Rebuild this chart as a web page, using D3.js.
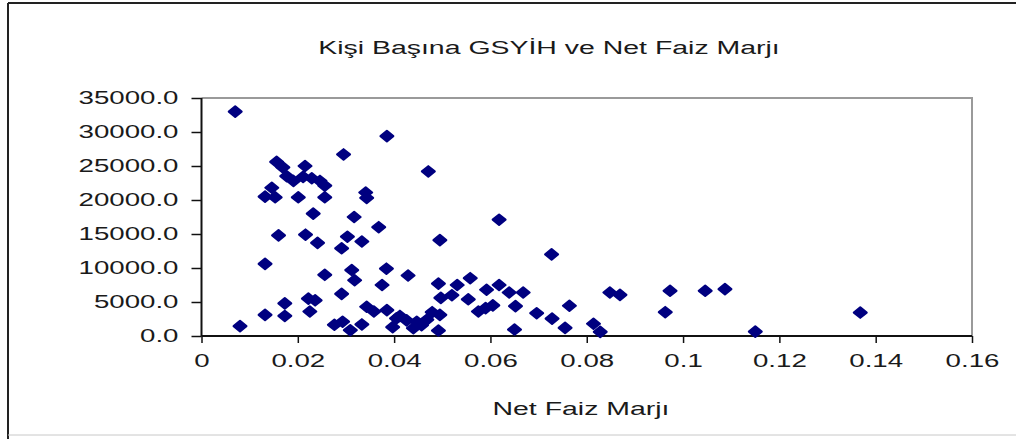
<!DOCTYPE html>
<html>
<head>
<meta charset="utf-8">
<script src="https://cdn.jsdelivr.net/npm/d3@7"></script>
<style>
  body { margin: 0; background: #fff; }
  svg { display: block; font-family: "Liberation Sans", Arial, sans-serif; }
</style>
</head>
<body>
<div id="chart"></div>
<script>
// Değerler (tahmini)
const netFaizMarji = [
  0.007, 0.0385, 0.0295, 0.0156, 0.0169, 0.0215, 0.0177, 0.0191, 0.0211, 0.0229,
  0.0246, 0.0256, 0.0146, 0.0132, 0.0153, 0.0201, 0.0256, 0.0341, 0.0343, 0.0232,
  0.0317, 0.0471, 0.0368, 0.016, 0.0216, 0.0241, 0.0303, 0.0291, 0.0333, 0.0495,
  0.0618, 0.0727, 0.0132, 0.0256, 0.0312, 0.0318, 0.0384, 0.0429, 0.0375, 0.0291,
  0.0173, 0.0173, 0.0132, 0.008, 0.0222, 0.0236, 0.0225, 0.0276, 0.0293, 0.0309,
  0.0333, 0.0343, 0.0358, 0.0385, 0.0397, 0.0412, 0.0426, 0.0447, 0.0457, 0.0468,
  0.0479, 0.0495, 0.044, 0.0492, 0.0405, 0.0492, 0.0531, 0.0558, 0.0497, 0.052,
  0.0554, 0.0592, 0.0618, 0.0639, 0.0668, 0.0652, 0.0575, 0.059, 0.0605, 0.0696,
  0.0728, 0.0764, 0.0755, 0.065, 0.0848, 0.0869, 0.0973, 0.0963, 0.1046, 0.1087,
  0.0814, 0.0828, 0.115, 0.1368
];
const kisiBasinaGsyih = [
  33000, 29400, 26700, 25600, 24800, 25000, 23500, 22800, 23400, 23200,
  22800, 22100, 21800, 20500, 20400, 20400, 20400, 21100, 20300, 18000,
  17500, 24200, 16000, 14800, 14900, 13700, 14600, 12900, 13900, 14100,
  17100, 12000, 10600, 9000, 9700, 8200, 9900, 8900, 7500, 6200,
  4800, 2950, 3100, 1450, 5500, 5250, 3600, 1650, 2100, 850,
  1700, 4300, 3600, 3800, 1300, 2950, 2300, 2100, 1600, 2400,
  3500, 3100, 1150, 800, 2600, 7700, 7500, 8500, 5600, 6000,
  5400, 6800, 7500, 6400, 6400, 4400, 3600, 4100, 4500, 3350,
  2550, 4450, 1200, 950, 6400, 6050, 6650, 3500, 6650, 6900,
  1800, 600, 650, 3450
];
const xTicks = [0, 0.02, 0.04, 0.06, 0.08, 0.1, 0.12, 0.14, 0.16];
const yTicks = [0, 5000, 10000, 15000, 20000, 25000, 30000, 35000];

const width = 1016, height = 439;
const plot = { left: 201.5, right: 972, top: 98, bottom: 336 };
const stretch = 1.58; // orijinal resim yatayda gerilmiş
const textColor = "#1a1a1a";
const markerColor = "#000080";

const svg = d3.select("#chart").append("svg")
  .attr("width", width)
  .attr("height", height);

// metni yatayda genişletir
function widen(sel) {
  sel.each(function () {
    const w = this.getComputedTextLength();
    d3.select(this)
      .attr("textLength", w * stretch)
      .attr("lengthAdjust", "spacingAndGlyphs");
  });
}

// dış çerçeve
svg.append("line").attr("x1", 8).attr("y1", 3).attr("x2", width).attr("y2", 3)
  .attr("stroke", "#222").attr("stroke-width", 2);
svg.append("line").attr("x1", 8).attr("y1", 3).attr("x2", 8).attr("y2", height)
  .attr("stroke", "#222").attr("stroke-width", 2);
svg.append("line").attr("x1", 8).attr("y1", 435).attr("x2", width).attr("y2", 435)
  .attr("stroke", "#c8c8c8").attr("stroke-width", 1);

const x = d3.scaleLinear().domain([0, 0.16]).range([plot.left, plot.right]);
const y = d3.scaleLinear().domain([0, 35000]).range([plot.bottom, plot.top]);

// çizim alanı kenarlığı (üst ve sağ gri)
svg.append("path")
  .attr("d", `M${plot.left},${plot.top}H${plot.right}V${plot.bottom}`)
  .attr("fill", "none")
  .attr("stroke", "#9a9a9a")
  .attr("stroke-width", 2);

// eksenler
const yAxis = svg.append("g")
  .attr("transform", `translate(${plot.left},0)`)
  .call(d3.axisLeft(y).tickValues(yTicks).tickSize(10).tickPadding(13)
    .tickFormat(d3.format(".1f")));
const xAxis = svg.append("g")
  .attr("transform", `translate(0,${plot.bottom})`)
  .call(d3.axisBottom(x).tickValues(xTicks).tickSize(7).tickPadding(12)
    .tickFormat(d => String(+d.toFixed(2))));

[yAxis, xAxis].forEach(g => {
  g.select(".domain").attr("stroke", "#111").attr("stroke-width", 2);
  g.selectAll(".tick line").attr("stroke", "#111").attr("stroke-width", 1.5);
  g.selectAll(".tick text")
    .attr("fill", textColor)
    .attr("font-size", 17.5)
    .attr("font-family", "Liberation Sans, Arial, sans-serif")
    .call(widen);
});
xAxis.select(".domain").attr("d", `M${plot.left},0H${plot.right}`);
yAxis.select(".domain").attr("d", `M0,${plot.top}V${plot.bottom}`);

// noktalar
const points = netFaizMarji.map((v, i) => ({ x: v, y: kisiBasinaGsyih[i] }));
svg.append("g").selectAll("path")
  .data(points)
  .join("path")
  .attr("transform", d => `translate(${x(d.x)},${y(d.y)})`)
  .attr("d", "M0,-5.2L6.4,0L0,5.2L-6.4,0Z")
  .attr("fill", markerColor)
  .attr("stroke", markerColor)
  .attr("stroke-width", 2.2)
  .attr("stroke-linejoin", "round");

// başlık
svg.append("text")
  .attr("x", 549)
  .attr("y", 54)
  .attr("text-anchor", "middle")
  .attr("font-size", 18)
  .attr("fill", textColor)
  .text("Kişi Başına GSYİH ve Net Faiz Marjı")
  .call(widen);

// x ekseni başlığı
svg.append("text")
  .attr("x", 581)
  .attr("y", 415)
  .attr("text-anchor", "middle")
  .attr("font-size", 18)
  .attr("fill", textColor)
  .text("Net Faiz Marjı")
  .call(widen);
</script>
</body>
</html>
